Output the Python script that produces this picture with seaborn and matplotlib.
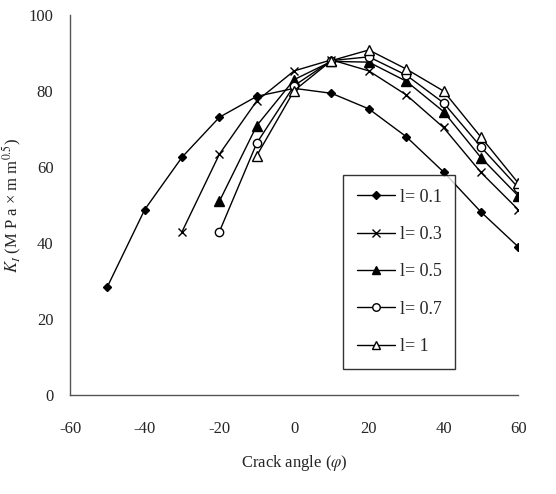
import matplotlib
matplotlib.use("Agg")
import matplotlib.pyplot as plt
import seaborn as sns
import pandas as pd

angles = [-50, -40, -30, -20, -10, 0, 10, 20, 30, 40, 50, 60]
k_01 = [28.5, 48.8, 62.6, 73.1, 78.6, 80.7, 79.4, 75.3, 68.0, 58.7, 48.2, 39.0]
k_03 = [None, None, 43.0, 63.4, 77.4, 85.3, 88.2, 85.3, 79.0, 70.4, 58.6, 48.8]
k_05 = [None, None, None, 51.0, 70.9, 83.0, 87.8, 87.6, 82.6, 74.6, 62.5, 52.4]
k_07 = [None, None, None, 43.0, 66.3, 81.4, 88.0, 89.0, 84.2, 76.9, 65.3, 54.6]
k_10 = [None, None, None, None, 63.0, 80.1, 88.0, 90.8, 85.8, 80.0, 67.9, 55.8]
labels = ["l= 0.1", "l= 0.3", "l= 0.5", "l= 0.7", "l= 1"]
series = [k_01, k_03, k_05, k_07, k_10]
markers = ["D", "x", "^", "o", "^"]
facecolors = ["black", "black", "black", "white", "white"]
sizes = [4.5, 6, 6.5, 6, 6.5]
xticks = [-60, -40, -20, 0, 20, 40, 60]
yticks = [0, 20, 40, 60, 80, 100]

sns.set_style("white")
plt.rcParams["font.family"] = ["Liberation Serif", "DejaVu Serif"]
plt.rcParams["mathtext.fontset"] = "stix"

fig = plt.figure(figsize=(5.56, 4.94), dpi=100)
ax = fig.add_axes([0.126, 0.2004, 0.806, 0.7692])

for lab, vals, m, fc, ms in zip(labels, series, markers, facecolors, sizes):
    df = pd.DataFrame({"angle": angles, "K": vals}).dropna()
    sns.lineplot(data=df, x="angle", y="K", ax=ax, color="black", linewidth=1.0,
                 marker=m, markersize=ms, markerfacecolor=fc,
                 markeredgecolor="black", markeredgewidth=1.0, label=lab)

ax.set_xlim(-60, 60)
ax.set_ylim(0, 100)
ax.set_xticks(xticks)
ax.set_yticks(yticks)
ax.set_xticklabels([str(t) for t in xticks])
ax.set_yticklabels([str(t) for t in yticks])
for s in ["top", "right"]:
    ax.spines[s].set_visible(False)
for s in ["left", "bottom"]:
    ax.spines[s].set_color("#555555")
    ax.spines[s].set_linewidth(1.0)
ax.tick_params(axis="x", direction="out", length=6, width=1, color="#333333",
               labelsize=12, pad=12.5)
ax.tick_params(axis="y", direction="out", length=4.5, width=1, color="#333333",
               labelsize=12, pad=7.5)
ax.set_xlabel(r"Crack angle ($\varphi$)", fontsize=12, labelpad=12)
ax.set_ylabel(r"$K_I$ (M P a × m m$^{0.5}$)", fontsize=12)
ax.yaxis.set_label_coords(-0.103, 0.5)

leg = ax.legend(loc="upper left", bbox_to_anchor=(0.61, 0.579), borderaxespad=0,
                frameon=True, fancybox=False, edgecolor="black", fontsize=13,
                handlelength=2.1, labelspacing=1.13, borderpad=0.75,
                handletextpad=0.28, markerscale=0.9)
leg.get_frame().set_linewidth(1.0)

fig.savefig("out.png", dpi=100)
